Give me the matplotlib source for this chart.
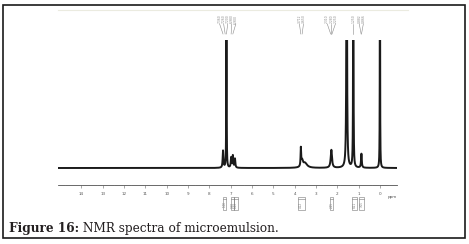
import numpy as np
import matplotlib
matplotlib.use("Agg")
import matplotlib.pyplot as plt
from matplotlib import transforms
from matplotlib.patches import Rectangle

W, H = 469, 244

# chemical shift axis (ppm)
ppm_ticks = [14, 13, 12, 11, 10, 9, 8, 7, 6, 5, 4, 3, 2, 1, 0]

# peaks: position (ppm), height above baseline, half width (ppm)
peak_ppm = [7.36, 7.20, 6.98, 6.90, 6.80, 3.71, 3.65, 3.52, 2.28, 1.56, 1.25, 0.87, 0.00]
peak_height = [17, 400, 10, 12, 9, 18, 6, 5, 18, 400, 400, 14, 400]
peak_width = [0.02, 0.006, 0.02, 0.02, 0.02, 0.015, 0.04, 0.12, 0.035, 0.014, 0.008, 0.02, 0.006]
baseline = 17

# peak pick labels (groups of shifts printed on top)
pick_groups = [
    ["7.360", "7.260", "7.200", "6.980", "6.900"],
    ["3.712", "3.650"],
    ["2.310", "2.280", "2.250"],
    ["1.250"],
    ["0.882", "0.866"],
]

# integration regions (start, end ppm) and values
integ_start = [7.38, 6.99, 6.84, 3.86, 2.35, 1.31, 0.99]
integ_end = [7.20, 6.84, 6.67, 3.52, 2.19, 1.08, 0.75]
integ_value = ["1.00", "0.98", "1.03", "4.12", "2.15", "8.21", "3.05"]

caption_bold = "Figure 16:"
caption_text = " NMR spectra of microemulsion."


def fy(py):
    return 1 - py / H


fig = plt.figure(figsize=(W / 100, H / 100), dpi=100)
fig.patch.set_facecolor("white")

ax = fig.add_axes([58 / W, fy(185), (397 - 58) / W, (185 - 40) / H])
ax.set_xlim(15.1, -0.8)
ax.set_ylim(0, 145)

x = np.linspace(15.1, -0.8, 40000)
y = np.full_like(x, baseline, dtype=float)
for p, h, w in zip(peak_ppm, peak_height, peak_width):
    y += h * w ** 2 / ((x - p) ** 2 + w ** 2)
ax.plot(x, y, color="#1a1a1a", lw=1.4, solid_joinstyle="round")

for s in ["top", "right", "left"]:
    ax.spines[s].set_visible(False)
ax.spines["bottom"].set_color("#555555")
ax.spines["bottom"].set_linewidth(0.6)
ax.set_yticks([])
ax.set_xticks(ppm_ticks)
ax.set_xticks(np.arange(-0.8, 15.1, 0.1), minor=True)
ax.tick_params(axis="x", which="major", length=2, width=0.4, color="#666666",
               labelsize=3, labelcolor="#555555", pad=3)
ax.tick_params(axis="x", which="minor", length=1, width=0.3, color="#888888")
ax.text(-0.6, -12, "ppm", transform=ax.transData, fontsize=3, color="#555555",
        ha="center", va="center", clip_on=False)

# peak pick labels on top
bt = transforms.blended_transform_factory(ax.transData, fig.transFigure)
pick_targets = [[float(v) for v in g] for g in pick_groups]
for labels, targets in zip(pick_groups, pick_targets):
    centre = np.mean(targets)
    n = len(labels)
    xs = centre + (np.arange(n) - (n - 1) / 2) * -0.19
    for lab, xl, tg in zip(labels, xs, targets):
        fig.text(xl, fy(19), lab, transform=bt, rotation=90, fontsize=2.2,
                 color="#8a8a8a", ha="center", va="center")
        fig.lines.append(plt.Line2D([xl, tg], [fy(24), fy(34)], transform=bt,
                                    color="#8a8a8a", lw=0.4))

# integration boxes below the axis
for a, b, v in zip(integ_start, integ_end, integ_value):
    r = Rectangle((b, fy(210)), a - b, fy(199) - fy(210), transform=bt,
                  fill=False, edgecolor="#777777", lw=0.4)
    fig.add_artist(r)
    fig.lines.append(plt.Line2D([a, a, b, b], [fy(199), fy(197), fy(197), fy(199)],
                                transform=bt, color="#777777", lw=0.4))
    fig.text((a + b) / 2, fy(204.5), v, transform=bt, rotation=90, fontsize=2,
             color="#777777", ha="center", va="center")

# faint scan line at top
fig.lines.append(plt.Line2D([58 / W, 408 / W], [fy(10), fy(10)],
                            transform=fig.transFigure, color="#ebebe0", lw=0.8))

# caption
t1 = fig.text(9 / W, fy(232), caption_bold, fontsize=8.7, fontweight="bold",
              family="DejaVu Serif", color="#231f20", ha="left", va="baseline")
fig.canvas.draw()
bb = t1.get_window_extent()
fig.text(bb.x1 / W, fy(232), caption_text, fontsize=8.7, family="DejaVu Serif",
         color="#231f20", ha="left", va="baseline")

# outer frame
fig.add_artist(Rectangle((3 / W, fy(238)), (465 - 3) / W, fy(5) - fy(238),
                         transform=fig.transFigure, fill=False,
                         edgecolor="#1a1a1a", lw=1.2))

fig.savefig("out.png", dpi=100)
